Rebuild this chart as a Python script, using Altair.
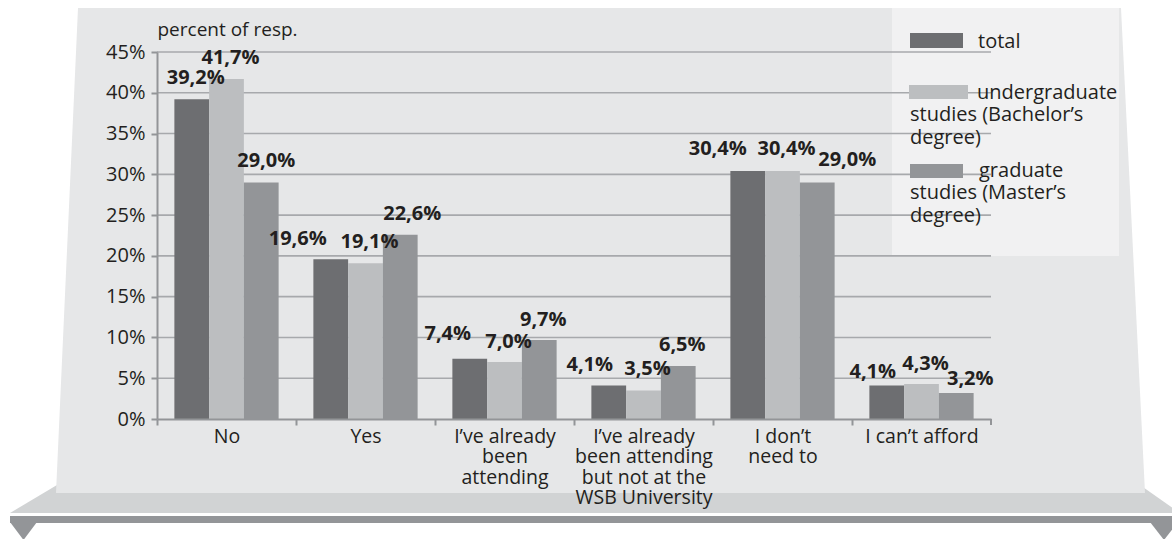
import altair as alt
import pandas as pd

# ---------------- data ----------------
categories = [
    "No",
    "Yes",
    "I’ve already\nbeen\nattending",
    "I’ve already\nbeen attending\nbut not at the\nWSB University",
    "I don’t\nneed to",
    "I can’t afford",
]
series = [
    "total",
    "undergraduate studies (Bachelor’s degree)",
    "graduate studies (Master’s degree)",
]
total = [39.2, 19.6, 7.4, 4.1, 30.4, 4.1]
undergraduate = [41.7, 19.1, 7.0, 3.5, 30.4, 4.3]
graduate = [29.0, 22.6, 9.7, 6.5, 29.0, 3.2]
y_ticks = [0, 5, 10, 15, 20, 25, 30, 35, 40, 45]
grid_ticks = [5, 10, 15, 20, 25, 30, 35, 40, 45]
y_title = "percent of resp."

# ---------------- style ----------------
colors = ["#6d6e71", "#bcbec0", "#939598"]
BLACK = "#231f20"
AXIS_GRAY = "#939598"
GRID_GRAY = "#a7a9ac"
FONT = "Open Sans"
W, H = 834, 367
STEP = W / len(categories)
PAD = {"left": 157, "top": 52, "right": 1172 - 157 - W, "bottom": 539 - 52 - H}

# per-label pixel nudges (label placement of the original)
label_dx = [
    [4, -33, -22, -19, -30, -14],
    [4, 4, 4, 4, 4, 4],
    [5, 12, 4, 4, 30, 14],
]
label_gap = [
    [15, 14, 19, 15, 16, 8],
    [15, 15, 14, 15, 16, 14],
    [15, 15, 14, 15, 16, 8],
]

rows = []
for si, (s, vals) in enumerate(zip(series, [total, undergraduate, graduate])):
    for ci, (c, v) in enumerate(zip(categories, vals)):
        rows.append({"cat": c, "series": s, "value": v, "ci": ci, "si": si,
                     "label": f"{v:.1f}".replace(".", ",") + "%"})
df = pd.DataFrame(rows)

color_scale = alt.Scale(domain=series, range=colors)

xenc = alt.X(
    "cat:N", sort=categories,
    scale=alt.Scale(domain=categories, paddingInner=0.25, paddingOuter=0.125),
    axis=alt.Axis(
        orient="bottom", zindex=1,
        title=None, labelAngle=0, labelExpr="split(datum.label, '\\n')",
        labelFont=FONT, labelFontSize=19.5, labelLineHeight=20.5, labelColor=BLACK,
        labelPadding=2, labelLimit=0, tickSize=6, tickWidth=2,
        tickOffset=-STEP / 2, labelOffset=STEP / 2,
        tickColor=AXIS_GRAY, domainColor=AXIS_GRAY, domainWidth=2, grid=False,
    ),
)
yenc = alt.Y(
    "value:Q", scale=alt.Scale(domain=[0, 45], nice=False),
    axis=alt.Axis(
        orient="left", zindex=1,
        values=y_ticks, labelExpr="datum.value + '%'", grid=False,
        tickSize=6, tickWidth=2, tickColor=AXIS_GRAY, domainColor=AXIS_GRAY,
        domainWidth=2, labelFont=FONT, labelFontSize=20, labelColor=BLACK,
        labelPadding=6, title=y_title, titleAngle=0, titleAlign="left",
        titleBaseline="alphabetic", titleX=0, titleY=-17, titleFont=FONT,
        titleFontSize=19, titleFontWeight="normal", titleColor=BLACK,
    ),
)
xoff = alt.XOffset("series:N", sort=series, scale=alt.Scale(domain=series))


def poly(pts, color):
    d = pd.DataFrame(pts, columns=["py", "xl", "xr"])
    return alt.Chart(d).mark_area(orient="horizontal", color=color, clip=False).encode(
        y=alt.Y("py:Q", scale=None, axis=None),
        x=alt.X("xl:Q", scale=None, axis=None),
        x2="xr:Q",
    )


one = pd.DataFrame({"a": [0]})

band = poly([(433, -100, 983), (461, -147, 1023)], "#d1d3d4")
panel = poly([(-44, -79, 964), (441, -101, 988)], "#e6e7e8")
darkbar = poly([(464, -147, 1030), (471, -147, 1030)], "#939598")
tri_l = poly([(470, -147, -120), (488, -133.5, -133.5)], "#939598")
tri_r = poly([(470, 993, 1021), (488, 1007, 1007)], "#939598")
deco = alt.layer(band, panel, darkbar, tri_l, tri_r)

legend_box = alt.Chart(one).mark_rect(color="#f1f1f2").encode(
    x=alt.value(735), x2=alt.value(962), y=alt.value(-44), y2=alt.value(204)
)

grid = alt.Chart(pd.DataFrame({"value": grid_ticks})).mark_rule(
    color=GRID_GRAY, strokeWidth=1.6
).encode(y=yenc, x=alt.value(0), x2=alt.value(W))

end_tick = alt.Chart(one).mark_rule(color=AXIS_GRAY, strokeWidth=2).encode(
    x=alt.value(W), y=alt.value(H), y2=alt.value(H + 6)
)

bars = alt.Chart(df).mark_bar().encode(
    x=xenc, xOffset=xoff, y=yenc,
    color=alt.Color("series:N", scale=color_scale, legend=None),
)

label_layers = []
for si in range(3):
    for ci in range(6):
        label_layers.append(
            alt.Chart(df).transform_filter(
                (alt.datum.ci == ci) & (alt.datum.si == si)
            ).mark_text(
                font=FONT, fontSize=20, fontWeight="bold", color=BLACK,
                baseline="alphabetic", align="center",
                dx=label_dx[si][ci], dy=-label_gap[si][ci],
            ).encode(x=xenc, xOffset=xoff, y=yenc, text="label:N")
        )

# custom legend
leg_df = pd.DataFrame({"series": series})
sw_pos = [(753, 806, -19, -4), (752, 811, 33, 47), (753, 806, 112, 126)]
first_line = ["total", "undergraduate", "graduate"]
first_pos = [(821, -4), (820, 47), (822, 125)]
rest_lines = ["", "studies (Bachelor’s\ndegree)", "studies (Master’s\ndegree)"]
rest_pos = [(753, 0), (753, 69), (753, 147)]

legend_layers = []
for i, s in enumerate(series):
    x1, x2, y1, y2 = sw_pos[i]
    legend_layers.append(
        alt.Chart(leg_df).transform_filter(alt.datum.series == s).mark_rect().encode(
            x=alt.value(x1), x2=alt.value(x2), y=alt.value(y1), y2=alt.value(y2),
            color=alt.Color("series:N", scale=color_scale, legend=None),
        )
    )
    txt_style = dict(font=FONT, fontSize=20, color=BLACK, align="left",
                     baseline="alphabetic", lineBreak="\n", lineHeight=22.5)
    legend_layers.append(
        alt.Chart(one).mark_text(**txt_style).encode(
            x=alt.value(first_pos[i][0]), y=alt.value(first_pos[i][1]),
            text=alt.value(first_line[i]),
        )
    )
    if rest_lines[i]:
        legend_layers.append(
            alt.Chart(one).mark_text(**txt_style).encode(
                x=alt.value(rest_pos[i][0]), y=alt.value(rest_pos[i][1]),
                text=alt.value(rest_lines[i]),
            )
        )

main = alt.layer(legend_box, grid, end_tick, bars, *label_layers, *legend_layers)

chart = alt.layer(deco, main).resolve_scale(
    x="independent", y="independent"
).properties(
    width=W, height=H,
    autosize=alt.AutoSizeParams(type="none"),
    padding=PAD,
    background="white",
).configure_view(stroke=None)

chart.save("out.html", embed_options={"renderer": "svg", "actions": False})
